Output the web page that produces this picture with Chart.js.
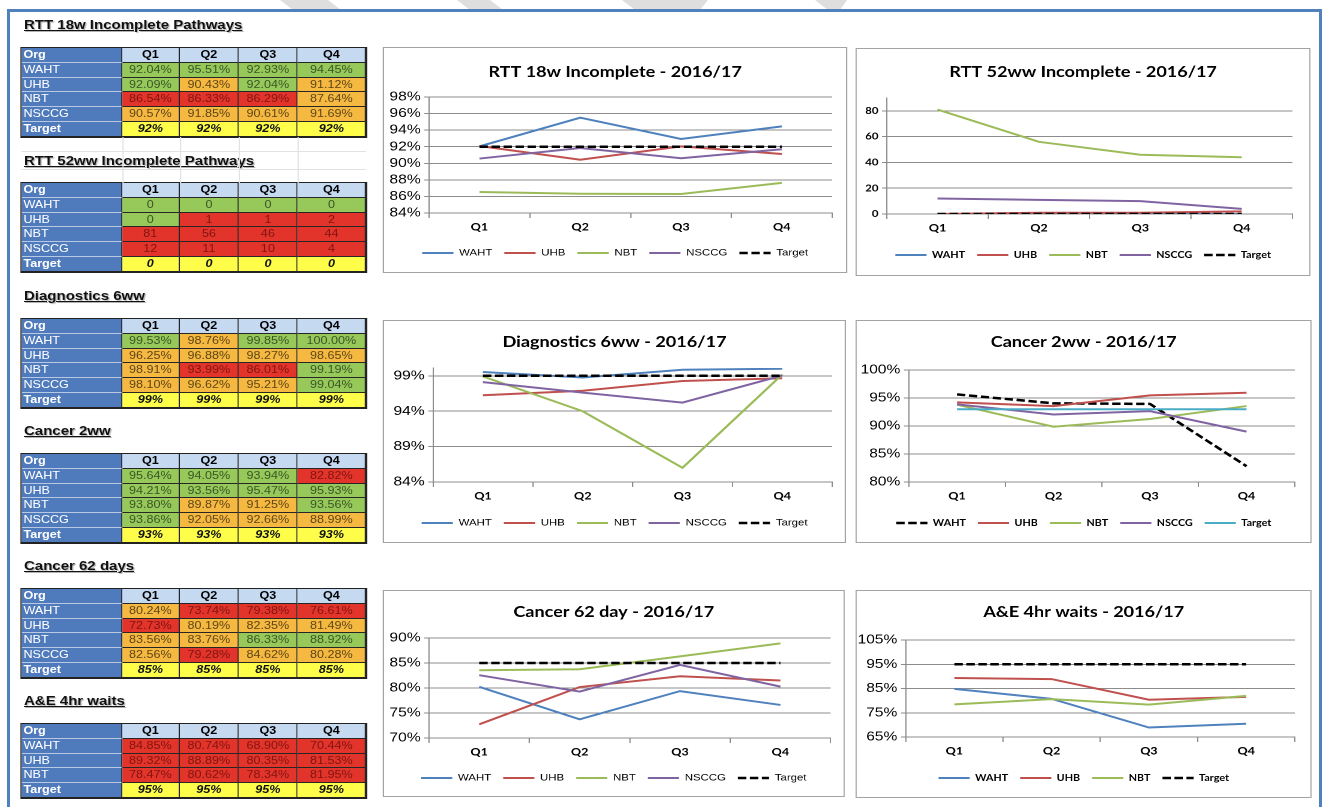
<!DOCTYPE html>
<html>
<head>
<meta charset="utf-8">
<script src="https://cdn.jsdelivr.net/npm/chart.js@4.4.1/dist/chart.umd.min.js"></script>
<style>
html, body { margin: 0; padding: 0; background: #fff; width: 1323px; height: 807px; overflow: hidden; }
.frame { position: absolute; background: #4f81bd; }
#page { position: absolute; left: 0; top: 0; width: 1102.5px; height: 807px; transform: scaleX(1.2); transform-origin: 0 0; }
.head { position: absolute; font: bold 12.5px "Liberation Sans", Arial, sans-serif; line-height: 16px; color: #111;
        text-decoration: underline; text-shadow: 1px 1px 1px rgba(0,0,0,0.3); white-space: nowrap; }
.cell { position: absolute; box-sizing: border-box; border-right: 1px solid #262626; border-bottom: 1px solid #262626;
        font: 10.5px "Liberation Sans", Arial, sans-serif; line-height: 13.5px; text-align: center; white-space: nowrap; overflow: hidden; }
.org { background: #4f7bbd; color: #fff; text-align: left; padding-left: 2px; border-bottom-color: #b9c9e3; }
.orgb { font-weight: bold; }
.qh { background: #c5d9f1; color: #000; font-weight: bold; }
.g { background: #96c85a; color: #3a5526; }
.a { background: #f5b840; color: #5e4617; }
.r { background: #e3342b; color: #7e1510; }
.tg { background: #fdfd4a; color: #111; font-weight: bold; font-style: italic; }
.tframe { position: absolute; box-sizing: border-box; border: 1px solid #222; border-bottom-width: 2px; }
.faint { position: absolute; background: #e2e2e2; }
.box { position: absolute; box-sizing: border-box; border: 1px solid #a3a3a3; background: #fff; }
</style>
</head>
<body>
<svg width="1323" height="12" style="position:absolute;left:0;top:0">
  <polygon points="280,0 328,0 341,10 293,10" fill="#dedede"/>
  <polygon points="457,0 490,0 503,10 470,10" fill="#dedede"/>
  <polygon points="622,0 708,0 700,10 635,10" fill="#dedede"/>
  <polygon points="815,0 847,0 840,10 828,10" fill="#dedede"/>
</svg>
<div class="frame" style="left:7px;top:9px;width:1315px;height:3px"></div>
<div class="frame" style="left:7px;top:9px;width:3px;height:798px"></div>
<div class="frame" style="left:1319px;top:9px;width:3px;height:798px"></div>
<div id="page"></div>
<script>
const quarters = ['Q1', 'Q2', 'Q3', 'Q4'];

// RTT 18w incomplete pathways (%)
const rtt18WAHT = [92.04, 95.51, 92.93, 94.45];
const rtt18UHB = [92.09, 90.43, 92.04, 91.12];
const rtt18NBT = [86.54, 86.33, 86.29, 87.64];
const rtt18NSCCG = [90.57, 91.85, 90.61, 91.69];
const rtt18Target = [92, 92, 92, 92];
const rtt18Ticks = [84, 86, 88, 90, 92, 94, 96, 98];

// RTT 52ww incomplete pathways (count)
const rtt52WAHT = [0, 0, 0, 0];
const rtt52UHB = [0, 1, 1, 2];
const rtt52NBT = [81, 56, 46, 44];
const rtt52NSCCG = [12, 11, 10, 4];
const rtt52Target = [0, 0, 0, 0];
const rtt52Ticks = [0, 20, 40, 60, 80];

// Diagnostics 6ww (%)
const diagWAHT = [99.53, 98.76, 99.85, 100.00];
const diagUHB = [96.25, 96.88, 98.27, 98.65];
const diagNBT = [98.91, 93.99, 86.01, 99.19];
const diagNSCCG = [98.10, 96.62, 95.21, 99.04];
const diagTarget = [99, 99, 99, 99];
const diagTicks = [84, 89, 94, 99];

// Cancer 2ww (%)
const c2wWAHT = [95.64, 94.05, 93.94, 82.82];
const c2wUHB = [94.21, 93.56, 95.47, 95.93];
const c2wNBT = [93.80, 89.87, 91.25, 93.56];
const c2wNSCCG = [93.86, 92.05, 92.66, 88.99];
const c2wTarget = [93, 93, 93, 93];
const c2wTicks = [80, 85, 90, 95, 100];

// Cancer 62 days (%)
const c62WAHT = [80.24, 73.74, 79.38, 76.61];
const c62UHB = [72.73, 80.19, 82.35, 81.49];
const c62NBT = [83.56, 83.76, 86.33, 88.92];
const c62NSCCG = [82.56, 79.28, 84.62, 80.28];
const c62Target = [85, 85, 85, 85];
const c62Ticks = [70, 75, 80, 85, 90];

// A&E 4hr waits (%)
const aeWAHT = [84.85, 80.74, 68.90, 70.44];
const aeUHB = [89.32, 88.89, 80.35, 81.53];
const aeNBT = [78.47, 80.62, 78.34, 81.95];
const aeTarget = [95, 95, 95, 95];
const aeTicks = [65, 75, 85, 95, 105];

const S = 1.2;            // the reference is widened sideways, so draw narrow and stretch
const X = v => v / S;
const page = document.getElementById('page');
const GRID = '#8c8c8c';
const arial = (size) => ({ family: 'Liberation Sans', size: size });
const calibri = (size) => ({ family: 'Lato', size: size, weight: 'bold' });
const colors = { WAHT: '#4F81BD', UHB: '#C0504D', NBT: '#9BBB59', NSCCG: '#8064A2' };

const metrics = [
  { heading: 'RTT 18w Incomplete Pathways', title: 'RTT 18w Incomplete - 2016/17', pct: true, lowerBetter: false,
    series: { WAHT: rtt18WAHT, UHB: rtt18UHB, NBT: rtt18NBT, NSCCG: rtt18NSCCG }, target: rtt18Target, ticks: rtt18Ticks, max: 98,
    headY: 25, tableTop: 48,
    box: [383, 47, 464, 226], plotL: 46, plotR: 15, titleY: 25, top: 50, bottom: 166, legendY: 206, yFont: arial(13), legFont: arial(9.5) },
  { heading: 'RTT 52ww Incomplete Pathways', title: 'RTT 52ww Incomplete - 2016/17', pct: false, lowerBetter: true,
    series: { WAHT: rtt52WAHT, UHB: rtt52UHB, NBT: rtt52NBT, NSCCG: rtt52NSCCG }, target: rtt52Target, ticks: rtt52Ticks, max: 90,
    headY: 161, tableTop: 183,
    box: [855, 48, 455, 228], plotL: 31, plotR: 18, titleY: 24, top: 50, bottom: 166, legendY: 207, yFont: calibri(9.5), legFont: calibri(9) },
  { heading: 'Diagnostics 6ww', title: 'Diagnostics 6ww - 2016/17', pct: true, lowerBetter: false,
    series: { WAHT: diagWAHT, UHB: diagUHB, NBT: diagNBT, NSCCG: diagNSCCG }, target: diagTarget, ticks: diagTicks, max: 100.1,
    headY: 296, tableTop: 319,
    box: [383, 320, 463, 223], plotL: 50, plotR: 14, titleY: 22, top: 48, bottom: 162, legendY: 203, yFont: arial(13), legFont: arial(9.5) },
  { heading: 'Cancer 2ww', title: 'Cancer 2ww - 2016/17', pct: true, lowerBetter: false, swap: true,
    series: { WAHT: c2wWAHT, UHB: c2wUHB, NBT: c2wNBT, NSCCG: c2wNSCCG }, target: c2wTarget, ticks: c2wTicks, max: 100,
    headY: 431, tableTop: 454,
    box: [855, 320, 457, 223], plotL: 53, plotR: 17, titleY: 22, top: 50, bottom: 162, legendY: 203, yFont: arial(13), legFont: calibri(9) },
  { heading: 'Cancer 62 days', title: 'Cancer 62 day - 2016/17', pct: true, lowerBetter: false,
    series: { WAHT: c62WAHT, UHB: c62UHB, NBT: c62NBT, NSCCG: c62NSCCG }, target: c62Target, ticks: c62Ticks, max: 90,
    headY: 566, tableTop: 589,
    box: [383, 590, 462, 207], plotL: 46, plotR: 14, titleY: 22, top: 48, bottom: 148, legendY: 188, yFont: arial(13), legFont: arial(9.5) },
  { heading: 'A&E 4hr waits', title: 'A&E 4hr waits - 2016/17', pct: true, lowerBetter: false,
    series: { WAHT: aeWAHT, UHB: aeUHB, NBT: aeNBT }, target: aeTarget, ticks: aeTicks, max: 105,
    headY: 701, tableTop: 724,
    box: [855, 590, 457, 208], plotL: 50, plotR: 17, titleY: 22, top: 50, bottom: 147, legendY: 188, yFont: arial(13), legFont: calibri(9) }
];

// table geometry (screen px)
const colX = [21, 122, 180, 239, 298, 366];
const rowH = 14.75;

function cell(x0, x1, y, text, cls) {
  const d = document.createElement('div');
  d.className = 'cell ' + cls;
  d.style.left = X(x0) + 'px';
  d.style.width = X(x1 - x0) + 'px';
  d.style.top = y + 'px';
  d.style.height = rowH + 'px';
  d.textContent = text;
  page.appendChild(d);
}

function rag(m, v, t) {
  if (m.lowerBetter) return v <= t ? 'g' : 'r';
  if (v >= t) return 'g';
  return v >= t - 5 ? 'a' : 'r';
}

function buildTable(m) {
  const h = document.createElement('div');
  h.className = 'head';
  h.textContent = m.heading;
  h.style.left = X(24) + 'px';
  h.style.top = (m.headY - 8) + 'px';
  page.appendChild(h);

  let y = m.tableTop;
  cell(colX[0], colX[1], y, 'Org', 'org orgb');
  quarters.forEach((q, i) => cell(colX[i + 1], colX[i + 2], y, q, 'qh'));
  Object.keys(m.series).forEach(name => {
    y += rowH;
    cell(colX[0], colX[1], y, name, 'org');
    m.series[name].forEach((v, i) => {
      const txt = m.pct ? v.toFixed(2) + '%' : String(v);
      cell(colX[i + 1], colX[i + 2], y, txt, rag(m, v, m.target[i]));
    });
  });
  y += rowH;
  cell(colX[0], colX[1], y, 'Target', 'org orgb');
  m.target.forEach((t, i) => cell(colX[i + 1], colX[i + 2], y, m.pct ? t + '%' : String(t), 'tg'));

  const f = document.createElement('div');
  f.className = 'tframe';
  f.style.left = X(colX[0] - 1) + 'px';
  f.style.width = X(colX[5] - colX[0] + 2) + 'px';
  f.style.top = (m.tableTop - 1) + 'px';
  f.style.height = (y + rowH - m.tableTop + 2) + 'px';
  page.appendChild(f);
}

function styleOf(m, name) {
  if (m.swap) {
    if (name === 'WAHT') return { c: '#000', w: 2.5, d: [7, 3] };
    if (name === 'Target') return { c: '#4BACC6', w: 2, d: [] };
  }
  if (name === 'Target') return { c: '#000', w: 2.5, d: [7, 3] };
  return { c: colors[name], w: 2, d: [] };
}

function buildChart(m) {
  const [bx, by, bw, bh] = m.box;
  const box = document.createElement('div');
  box.className = 'box';
  box.style.left = X(bx) + 'px';
  box.style.top = by + 'px';
  box.style.width = X(bw) + 'px';
  box.style.height = bh + 'px';
  const cv = document.createElement('canvas');
  box.appendChild(cv);
  page.appendChild(box);

  const innerH = bh - 2;
  const legPad = 10, legFs = m.legFont.size;
  const padTop = m.titleY - 1 - 9;
  const titleGap = (m.top - 1) - padTop - 18;
  const legTop = (m.legendY - 1) - legPad - legFs / 2;
  const xH = legTop - (m.bottom - 1);
  const padBottom = Math.max(innerH - legTop - (legFs + 2 * legPad), 0);

  const names = Object.keys(m.series).concat(['Target']);
  const datasets = names.map((n, i) => {
    const st = styleOf(m, n);
    return {
      label: n, data: n === 'Target' ? m.target : m.series[n],
      borderColor: st.c, backgroundColor: st.c, borderWidth: st.w, borderDash: st.d,
      pointRadius: 0, tension: 0, fill: false, order: -i
    };
  });

  new Chart(cv, {
    type: 'line',
    data: { labels: quarters, datasets: datasets },
    options: {
      animation: false, responsive: true, maintainAspectRatio: false, devicePixelRatio: 2, events: [],
      layout: { padding: { top: padTop, bottom: padBottom, left: 0, right: 0 } },
      plugins: {
        title: { display: true, text: m.title, color: '#000',
                 font: { family: 'Lato', size: 15, weight: 'bold', lineHeight: 1.2 }, padding: { top: 0, bottom: titleGap } },
        legend: { position: 'bottom',
                  labels: { usePointStyle: true, pointStyle: 'line', pointStyleWidth: 26, padding: legPad, color: '#000',
                            font: m.legFont,
                            generateLabels: chart => chart.data.datasets.map((ds, i) => ({
                              text: ds.label, fillStyle: ds.borderColor, strokeStyle: ds.borderColor,
                              lineWidth: ds.borderWidth, lineDash: ds.borderDash, lineCap: 'butt',
                              pointStyle: 'line', hidden: false, datasetIndex: i, fontColor: '#000'
                            })) } },
        tooltip: { enabled: false }
      },
      scales: {
        x: {
          offset: true,
          grid: { offset: true, drawOnChartArea: false, tickLength: 5, color: GRID },
          border: { color: GRID },
          ticks: { color: '#000', font: calibri(10.5), padding: 3, autoSkip: false, maxRotation: 0 },
          afterFit: s => { s.height = xH; }
        },
        y: {
          min: m.ticks[0], max: m.max,
          grid: { color: GRID, tickLength: 4 },
          border: { color: GRID },
          ticks: { color: '#000', font: m.yFont, padding: 3, autoSkip: false, callback: v => m.pct ? v + '%' : v },
          afterBuildTicks: s => { s.ticks = m.ticks.map(v => ({ value: v })); },
          afterFit: s => { s.width = X(m.plotL - 1); }
        },
        yR: {
          position: 'right',
          grid: { display: false }, border: { display: false }, ticks: { display: false },
          afterFit: s => { s.width = X(m.plotR - 1); }
        }
      }
    }
  });
}

metrics.forEach(buildTable);
metrics.forEach(buildChart);

// faint spreadsheet grid between the first two tables
[[21, 151, 345, 1], [21, 169, 345, 1]].forEach(([x, y, w, h]) => {
  const d = document.createElement('div');
  d.className = 'faint';
  d.style.left = X(x) + 'px'; d.style.top = y + 'px'; d.style.width = X(w) + 'px'; d.style.height = h + 'px';
  page.appendChild(d);
});
[122, 180, 239, 298].forEach(x => {
  const d = document.createElement('div');
  d.className = 'faint';
  d.style.left = X(x) + 'px'; d.style.top = '137px'; d.style.width = '1px'; d.style.height = '46px';
  page.appendChild(d);
});
</script>
</body>
</html>
